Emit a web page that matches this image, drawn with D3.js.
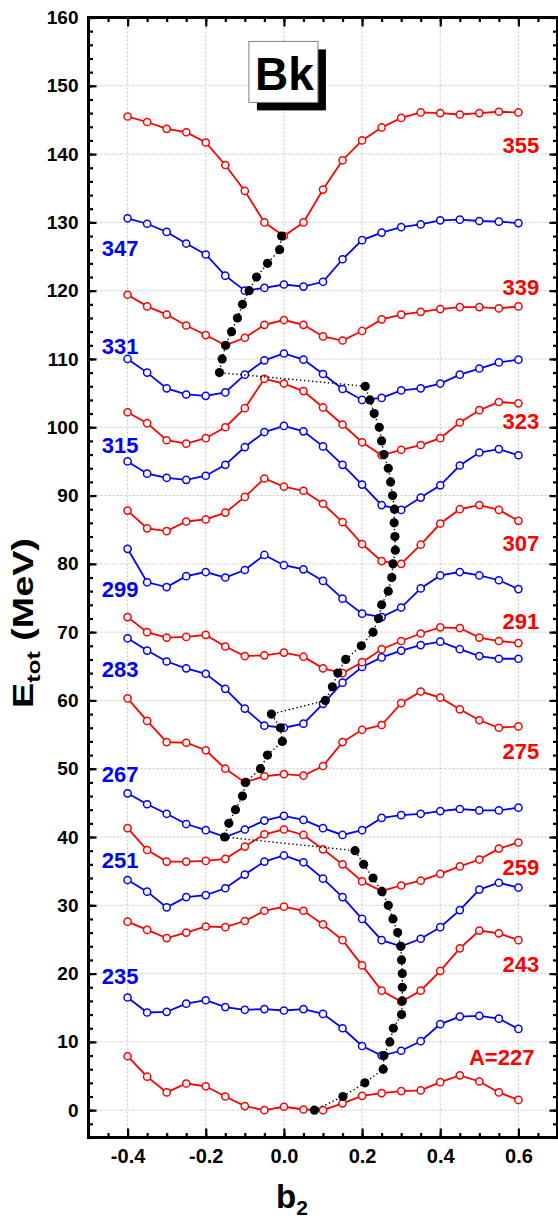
<!DOCTYPE html>
<html>
<head>
<meta charset="utf-8">
<script src="https://cdn.jsdelivr.net/npm/d3@7"></script>
<style>
body { margin: 0; background: #fff; }
text { font-family: "Liberation Sans", Arial, sans-serif; font-weight: bold; }
</style>
</head>
<body>
<div id="chart"></div>
<script>
// deformation grid (b2) used by every curve
var betaGrid = [-0.4, -0.35, -0.3, -0.25, -0.2, -0.15, -0.1, -0.05, 0, 0.05, 0.1,
                0.15, 0.2, 0.25, 0.3, 0.35, 0.4, 0.45, 0.5, 0.55, 0.6];

var massNumbers = [227, 235, 243, 251, 259, 267, 275, 283, 291, 299, 307, 315, 323, 331, 339, 347, 355];

// E_tot (MeV), shifted curves
var e227 = [7.9, 4.9, 2.6, 3.9, 3.5, 2.0, 0.6, 0.0, 0.5, 0.1, 0.0, 1.0, 2.1, 2.5, 2.8, 2.9, 4.1, 5.1, 4.2, 2.6, 1.5];
var e235 = [16.5, 14.3, 14.4, 15.6, 16.1, 15.1, 14.7, 14.8, 14.6, 14.8, 14.1, 12.0, 9.4, 8.0, 8.7, 10.1, 12.6, 13.7, 13.8, 13.4, 11.9];
var e243 = [27.6, 26.4, 25.2, 26.0, 26.9, 26.8, 27.7, 29.2, 29.8, 29.2, 27.2, 24.9, 21.2, 17.5, 15.9, 17.5, 20.4, 23.7, 26.3, 25.9, 24.9];
var e251 = [33.7, 32.0, 29.7, 31.2, 31.5, 32.5, 34.5, 36.4, 37.3, 36.3, 33.9, 31.2, 28.0, 24.9, 24.0, 25.1, 26.8, 29.3, 32.3, 33.3, 32.6];
var e259 = [41.3, 38.1, 36.4, 36.4, 36.5, 36.8, 38.6, 40.4, 41.1, 40.3, 38.2, 36.0, 33.5, 32.1, 32.9, 33.6, 34.6, 35.7, 36.7, 38.3, 39.2];
var e267 = [46.4, 44.8, 43.4, 41.9, 41.0, 40.0, 41.1, 42.4, 43.1, 42.5, 41.3, 40.3, 41.0, 42.8, 43.2, 43.4, 43.8, 44.1, 43.9, 43.9, 44.3];
var e275 = [60.3, 57.0, 53.9, 53.8, 52.7, 50.0, 48.0, 48.9, 49.2, 49.0, 50.4, 53.9, 55.7, 56.4, 59.6, 61.3, 60.4, 58.7, 57.1, 56.0, 56.2];
var e283 = [69.1, 67.3, 65.7, 64.7, 63.9, 61.7, 58.8, 56.3, 56.0, 56.6, 59.5, 62.6, 64.9, 66.3, 67.3, 68.1, 68.6, 67.5, 66.5, 66.1, 66.1];
var e291 = [72.2, 70.0, 69.2, 69.3, 69.6, 67.9, 66.5, 66.6, 67.0, 66.4, 64.7, 64.0, 65.6, 67.5, 68.7, 69.8, 70.7, 70.6, 69.2, 68.7, 68.4];
var e299 = [82.2, 77.3, 76.6, 78.2, 78.8, 78.0, 79.1, 81.3, 79.8, 79.2, 77.5, 74.9, 72.7, 72.2, 73.6, 76.4, 78.3, 78.8, 78.3, 77.6, 76.3];
var e307 = [87.8, 85.2, 84.8, 86.2, 86.5, 87.5, 89.8, 92.5, 91.3, 90.7, 88.8, 86.1, 82.9, 80.4, 80.0, 82.8, 85.9, 88.0, 88.6, 87.9, 86.3];
var e315 = [95.0, 93.2, 92.6, 92.3, 92.9, 94.5, 97.1, 99.3, 100.2, 99.4, 97.2, 94.5, 91.6, 88.6, 87.9, 89.7, 91.5, 94.4, 96.3, 96.8, 95.9];
var e323 = [102.2, 100.6, 98.1, 97.6, 98.4, 100.0, 102.8, 107.1, 106.4, 105.3, 102.9, 100.4, 97.8, 95.9, 96.7, 97.4, 98.4, 100.7, 102.5, 103.7, 103.5];
var e331 = [110.0, 108.0, 105.7, 104.8, 104.6, 105.1, 107.7, 109.8, 110.8, 109.9, 107.8, 105.6, 104.0, 104.3, 105.4, 105.7, 106.4, 107.7, 108.6, 109.5, 109.9];
var e339 = [119.4, 117.7, 116.5, 114.9, 113.5, 112.0, 113.1, 115.0, 115.7, 115.0, 113.3, 112.7, 114.1, 115.8, 116.5, 116.9, 117.3, 117.6, 117.6, 117.4, 117.7];
var e347 = [130.6, 129.8, 128.6, 126.9, 125.3, 122.2, 120.0, 120.4, 120.9, 120.6, 121.3, 124.6, 127.4, 128.5, 129.3, 129.7, 130.3, 130.4, 130.2, 130.1, 129.9];
var e355 = [145.5, 144.7, 143.7, 143.2, 141.7, 138.4, 134.6, 130.0, 128.0, 130.0, 134.8, 139.1, 142.0, 143.9, 145.3, 146.1, 146.0, 145.8, 146.0, 146.2, 146.1];

var curveLabels = ["A=227", "235", "243", "251", "259", "267", "275", "283", "291",
                   "299", "307", "315", "323", "331", "339", "347", "355"];
// where each label sits (MeV, baseline)
var labelAnchorE = [6.6, 18.5, 20.2, 35.4, 34.5, 48.0, 51.4, 63.5, 70.5, 75.2, 81.9, 96.3, 99.8, 110.7, 119.4, 125.1, 140.1];

// ground state path (every second isotope)
var gsEnergy = [0, 2, 4, 6, 8, 10, 12, 14, 16, 18, 20, 22, 24, 26, 28, 30, 32, 34, 36, 38,
                40, 42, 44, 46, 48, 50, 52, 54, 56, 58, 60, 62, 64, 66, 68, 70, 72, 74, 76, 78,
                80, 82, 84, 86, 88, 90, 92, 94, 96, 98, 100, 102, 104, 106, 108, 110, 112, 114,
                116, 118, 120, 122, 124, 126, 128];
var gsBeta = [0.078, 0.151, 0.207, 0.254, 0.256, 0.271, 0.280, 0.301, 0.303, 0.303,
              0.303, 0.301, 0.299, 0.291, 0.279, 0.267, 0.251, 0.228, 0.204, 0.182,
              -0.152, -0.141, -0.124, -0.106, -0.098, -0.060, -0.042, -0.004, -0.009, -0.032,
              0.106, 0.124, 0.138, 0.158, 0.198, 0.228, 0.242, 0.250, 0.267, 0.276,
              0.279, 0.285, 0.284, 0.282, 0.283, 0.278, 0.273, 0.267, 0.256, 0.250,
              0.244, 0.231, 0.220, 0.208,
              -0.165, -0.158, -0.149, -0.134, -0.119, -0.106, -0.089, -0.070, -0.042, -0.011, -0.006];

var xTickValues = [-0.4, -0.2, 0, 0.2, 0.4, 0.6];
var xTickLabels = ["-0.4", "-0.2", "0.0", "0.2", "0.4", "0.6"];
var yTickValues = [0, 10, 20, 30, 40, 50, 60, 70, 80, 90, 100, 110, 120, 130, 140, 150, 160];
var yTickLabels = ["0", "10", "20", "30", "40", "50", "60", "70", "80", "90", "100",
                   "110", "120", "130", "140", "150", "160"];

var curves = [e227, e235, e243, e251, e259, e267, e275, e283, e291, e299, e307, e315, e323, e331, e339, e347, e355];

var width = 558, height = 1218;
var x = d3.scaleLinear().domain([-0.5, 0.7]).range([88.5, 557.5]);
var y = d3.scaleLinear().domain([-4, 160]).range([1137.5, 17.5]);

var RED = "#ff0000", BLUE = "#0000ff";

var svg = d3.select("#chart").append("svg")
	.attr("width", width)
	.attr("height", height);

// dotted grid
svg.append("g")
	.selectAll("line")
	.data(xTickValues)
	.enter()
	.append("line")
	.attr("x1", function(d) { return x(d); })
	.attr("x2", function(d) { return x(d); })
	.attr("y1", y(160) + 2)
	.attr("y2", y(-4))
	.attr("stroke", "#c4c4c4")
	.attr("stroke-width", 1)
	.attr("stroke-dasharray", "2,2");

svg.append("g")
	.selectAll("line")
	.data(yTickValues)
	.enter()
	.append("line")
	.attr("x1", x(-0.5))
	.attr("x2", x(0.7))
	.attr("y1", function(d) { return y(d); })
	.attr("y2", function(d) { return y(d); })
	.attr("stroke", "#c4c4c4")
	.attr("stroke-width", 1)
	.attr("stroke-dasharray", "2,2");

// title box
var bx = x(0) - 35, by = y(156.5);
svg.append("rect")
	.attr("x", bx + 8).attr("y", by + 8)
	.attr("width", 69).attr("height", 61)
	.attr("fill", "#000");
svg.append("rect")
	.attr("x", bx).attr("y", by)
	.attr("width", 69).attr("height", 61)
	.attr("fill", "#fff")
	.attr("stroke", "#808080")
	.attr("stroke-width", 1);
svg.append("text")
	.attr("x", bx + 35.5).attr("y", by + 48.5)
	.attr("text-anchor", "middle")
	.style("font-size", "46px")
	.text("Bk");

// curves
var line = d3.line()
	.x(function(d, i) { return x(betaGrid[i]); })
	.y(function(d) { return y(d); });

var curveGroups = svg.append("g")
	.selectAll("g")
	.data(curves)
	.enter()
	.append("g")
	.attr("class", "curve");

curveGroups.append("path")
	.attr("d", function(d) { return line(d); })
	.attr("fill", "none")
	.attr("stroke", function(d, i) { return i % 2 == 0 ? RED : BLUE; })
	.attr("stroke-width", 1.8);

curveGroups.each(function(d, i) {
	d3.select(this)
		.selectAll("circle")
		.data(d)
		.enter()
		.append("circle")
		.attr("cx", function(v, j) { return x(betaGrid[j]); })
		.attr("cy", function(v) { return y(v); })
		.attr("r", 3.6)
		.attr("fill", "#fff")
		.attr("stroke", i % 2 == 0 ? RED : BLUE)
		.attr("stroke-width", 1.5);
});

// ground states
var gs = gsEnergy.map(function(e, i) { return {b: gsBeta[i], e: e}; });

svg.append("path")
	.attr("d", d3.line().x(function(d) { return x(d.b); }).y(function(d) { return y(d.e); })(gs))
	.attr("fill", "none")
	.attr("stroke", "#000")
	.attr("stroke-width", 1.4)
	.attr("stroke-dasharray", "1.4,2.6");

svg.append("g")
	.selectAll("circle")
	.data(gs)
	.enter()
	.append("circle")
	.attr("cx", function(d) { return x(d.b); })
	.attr("cy", function(d) { return y(d.e); })
	.attr("r", 4.6)
	.attr("fill", "#000");

// mass number labels: red on the right, blue on the left
svg.append("g")
	.selectAll("text")
	.data(curveLabels)
	.enter()
	.append("text")
	.attr("x", function(d, i) { return i == 0 ? x(0.641) : (i % 2 == 0 ? x(0.653) : x(-0.466)); })
	.attr("y", function(d, i) { return y(labelAnchorE[i]); })
	.attr("text-anchor", function(d, i) { return i % 2 == 0 ? "end" : "start"; })
	.attr("fill", function(d, i) { return i % 2 == 0 ? RED : BLUE; })
	.style("font-size", "22px")
	.text(function(d) { return d; });

// axes, ticks pointing inward on all four sides
function styleAxis(g) {
	g.select(".domain").remove();
	g.selectAll("line").attr("stroke", "#000").attr("stroke-width", 2.2);
	g.selectAll("text").attr("fill", "#000").style("font-family", null);
}

var xMinor = d3.range(-0.5, 0.7001, 0.05);
var yMinor = d3.range(-4, 160.01, 2);

svg.append("g").attr("transform", "translate(0," + y(-4) + ")")
	.call(d3.axisBottom(x).tickValues(xMinor).tickSize(-4.5).tickFormat(""))
	.call(styleAxis);
svg.append("g").attr("transform", "translate(0," + y(-4) + ")")
	.call(d3.axisBottom(x).tickValues(xTickValues).tickSize(-9).tickPadding(11)
		.tickFormat(function(d, i) { return xTickLabels[i]; }))
	.call(styleAxis)
	.selectAll("text").style("font-size", "20px");

svg.append("g").attr("transform", "translate(0," + y(160) + ")")
	.call(d3.axisTop(x).tickValues(xMinor).tickSize(-4.5).tickFormat(""))
	.call(styleAxis);
svg.append("g").attr("transform", "translate(0," + y(160) + ")")
	.call(d3.axisTop(x).tickValues(xTickValues).tickSize(-9).tickFormat(""))
	.call(styleAxis);

svg.append("g").attr("transform", "translate(" + x(-0.5) + ",0)")
	.call(d3.axisLeft(y).tickValues(yMinor).tickSize(-4.5).tickFormat(""))
	.call(styleAxis);
svg.append("g").attr("transform", "translate(" + x(-0.5) + ",0)")
	.call(d3.axisLeft(y).tickValues(yTickValues).tickSize(-8).tickPadding(10)
		.tickFormat(function(d, i) { return yTickLabels[i]; }))
	.call(styleAxis)
	.selectAll("text").style("font-size", "19px");

svg.append("g").attr("transform", "translate(" + x(0.7) + ",0)")
	.call(d3.axisRight(y).tickValues(yMinor).tickSize(-4.5).tickFormat(""))
	.call(styleAxis);
svg.append("g").attr("transform", "translate(" + x(0.7) + ",0)")
	.call(d3.axisRight(y).tickValues(yTickValues).tickSize(-8).tickFormat(""))
	.call(styleAxis);

// frame
svg.append("rect")
	.attr("x", x(-0.5)).attr("y", y(160))
	.attr("width", x(0.7) - x(-0.5)).attr("height", y(-4) - y(160))
	.attr("fill", "none")
	.attr("stroke", "#000")
	.attr("stroke-width", 3);

// axis titles (the y title is drawn stretched along its length, as in the figure)
var yTitle = svg.append("text")
	.attr("transform", "translate(33,623) rotate(-90) scale(1.3,1)")
	.attr("text-anchor", "middle")
	.style("font-size", "29px");
yTitle.append("tspan").text("E");
yTitle.append("tspan").attr("dy", 7).style("font-size", "19px").text("tot");
yTitle.append("tspan").attr("dy", -7).text(" (MeV)");

var xTitle = svg.append("text")
	.attr("x", x(0) + 8).attr("y", 1208)
	.attr("text-anchor", "middle")
	.style("font-size", "33px");
xTitle.append("tspan").text("b");
xTitle.append("tspan").attr("dy", 7).style("font-size", "21px").text("2");
</script>
</body>
</html>
